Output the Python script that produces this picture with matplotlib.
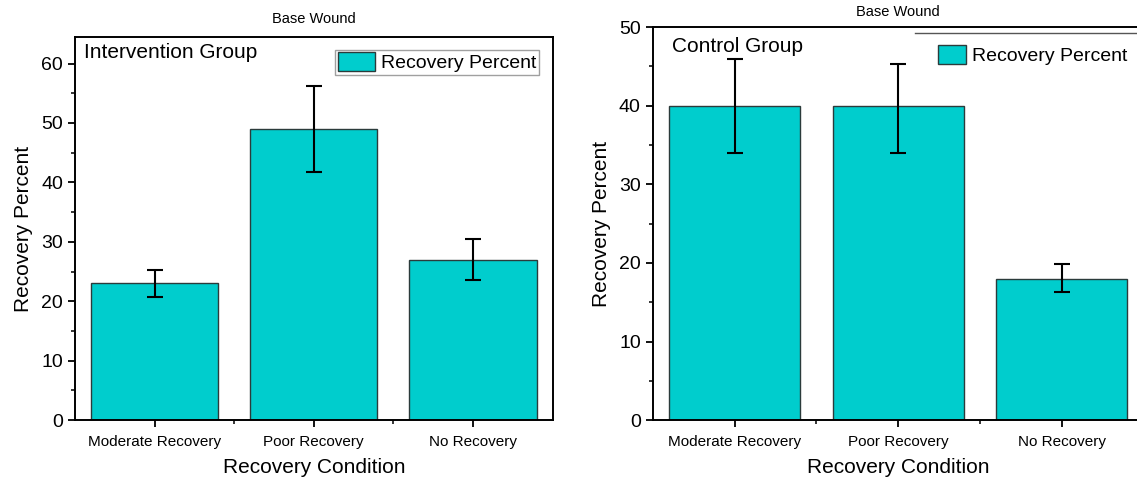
import matplotlib.pyplot as plt
from matplotlib.ticker import MultipleLocator, FixedLocator
from matplotlib.lines import Line2D

plt.rcParams['font.family'] = ['Liberation Sans', 'DejaVu Sans']

# data
categories = ['Moderate Recovery', 'Poor Recovery', 'No Recovery']
interv_vals = [23, 49, 27]
interv_err = [2.3, 7.3, 3.4]
control_vals = [40, 40, 18]
control_err_lo = [6.0, 6.0, 1.7]
control_err_hi = [6.0, 5.3, 1.8]

bar_color = '#00CDCD'
edge_color = '#2b3b3b'

fig = plt.figure(figsize=(11.37, 4.84), dpi=100)
ax1 = fig.add_axes([0.066, 0.132, 0.420, 0.792])
ax2 = fig.add_axes([0.574, 0.132, 0.432, 0.812])


def style_axes(ax, ymax, major):
    x = range(len(categories))
    ax.set_xlim(-0.5, len(categories) - 0.5)
    ax.set_ylim(0, ymax)
    ax.set_xticks(list(x))
    ax.set_xticklabels(categories, fontsize=11)
    ax.xaxis.set_minor_locator(FixedLocator([0.5, 1.5]))
    ax.yaxis.set_major_locator(MultipleLocator(major))
    ax.yaxis.set_minor_locator(MultipleLocator(major / 2))
    ax.tick_params(axis='y', which='major', labelsize=14, direction='out',
                   length=5, width=1.3)
    ax.tick_params(axis='y', which='minor', direction='out', length=3, width=1.1)
    ax.tick_params(axis='x', which='major', direction='out', length=5,
                   width=1.3, pad=6)
    ax.tick_params(axis='x', which='minor', direction='out', length=3, width=1.1)
    for s in ax.spines.values():
        s.set_linewidth(1.4)
    ax.set_xlabel('Recovery Condition', fontsize=15, labelpad=6)
    ax.set_ylabel('Recovery Percent', fontsize=15, labelpad=6)


# left panel: intervention group
x = range(len(categories))
ax1.bar(x, interv_vals, width=0.8, color=bar_color,
        edgecolor=edge_color, linewidth=1.0,
        label='Recovery Percent', zorder=2)
ax1.errorbar(x, interv_vals, yerr=interv_err, fmt='none', ecolor='black',
             elinewidth=1.5, capsize=6, capthick=1.5, zorder=3)
style_axes(ax1, 64.5, 10)
ax1.set_title('Base Wound', fontsize=10.5, pad=10)
ax1.text(0.018, 0.985, 'Intervention Group', transform=ax1.transAxes,
         fontsize=15, va='top', ha='left')
leg1 = ax1.legend(loc='upper right', fontsize=14, frameon=True, fancybox=False,
                  edgecolor='#888888', borderpad=0.15, handlelength=1.9,
                  handleheight=1.1, handletextpad=0.3,
                  bbox_to_anchor=(0.992, 0.992))
leg1.get_frame().set_linewidth(1.0)

# right panel: control group
ax2.bar(x, control_vals, width=0.8, color=bar_color,
        edgecolor=edge_color, linewidth=1.0,
        label='Recovery Percent', zorder=2)
ax2.errorbar(x, control_vals, yerr=[control_err_lo, control_err_hi],
             fmt='none', ecolor='black', elinewidth=1.5, capsize=6,
             capthick=1.5, zorder=3)
style_axes(ax2, 50, 10)
ax2.spines['right'].set_visible(False)
ax2.set_title('Base Wound', fontsize=10.5, pad=8)
ax2.text(0.04, 0.975, 'Control Group', transform=ax2.transAxes,
         fontsize=15, va='top', ha='left')
ax2.legend(loc='upper left', fontsize=14, frameon=False, borderpad=0.0,
           handlelength=1.4, handleheight=1.1, handletextpad=0.35,
           bbox_to_anchor=(0.562, 0.978))
# top edge of the (cropped) legend frame
ax2.add_line(Line2D([0.534, 1.0], [0.985, 0.985], transform=ax2.transAxes,
                    color='#555555', linewidth=1.0, clip_on=False))

fig.savefig('out.png', dpi=100)
